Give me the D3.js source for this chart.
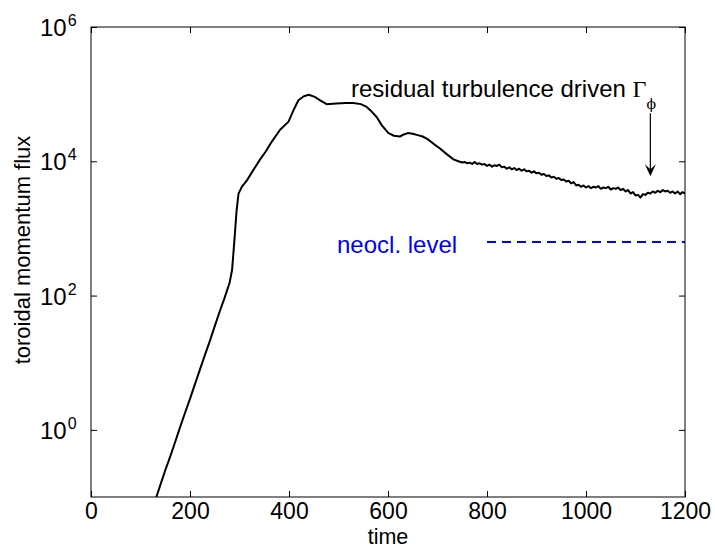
<!DOCTYPE html>
<html>
<head>
<meta charset="utf-8">
<script src="https://cdn.jsdelivr.net/npm/d3@7"></script>
<style>
  body { margin: 0; background: #fff; }
  text { font-family: "Liberation Sans", Arial, sans-serif; }
</style>
</head>
<body>
<div class="mainDiv"></div>
<script>
// time / flux pairs
const fluxSeries = [
  [132, 0.1], [140, 0.15], [150, 0.25], [160, 0.40], [170, 0.66], [180, 1.1],
  [190, 1.8], [200, 2.9], [210, 4.8], [220, 7.9], [230, 13], [240, 21],
  [250, 35], [260, 58], [270, 93], [280, 155], [285, 240], [290, 710],
  [294, 1800], [298, 3300], [305, 4200], [315, 5200], [328, 7400], [341, 10500],
  [353, 14000], [365, 19500], [382, 29500], [399, 39000], [409, 57500], [419, 81000],
  [430, 93000], [440, 98000], [452, 91000], [463, 81000], [476, 71000], [496, 72500],
  [515, 74000], [530, 74000], [545, 71000], [557, 64500], [567, 55000], [577, 45700],
  [588, 34000], [601, 26300], [612, 24000], [624, 23400], [632, 25100], [640, 26300],
  [650, 25700], [660, 24500], [670, 23400], [680, 21400], [692, 18200], [705, 15500],
  [718, 12900], [732, 10700], [742, 10000], [750, 9600],
  [755, 9770], [760, 9330], [765, 9550], [770, 9120], [775, 9770], [780, 9120],
  [785, 9330], [790, 8910], [795, 9120], [800, 8510], [805, 8910], [810, 8320],
  [815, 8710], [820, 8510], [825, 8910], [830, 8130], [835, 8320], [840, 7760],
  [845, 8130], [850, 7590], [855, 7940], [860, 7410], [865, 7760], [870, 7240],
  [875, 7590], [880, 7080], [885, 7240], [890, 6760], [895, 7080], [900, 6610],
  [905, 6760], [910, 6310], [915, 6460], [920, 6030], [925, 6170], [930, 5750],
  [935, 5890], [940, 5500], [945, 5620], [950, 5250], [955, 5370], [960, 5010],
  [965, 5130], [970, 4680], [975, 4900], [980, 4370], [985, 4470], [990, 4170],
  [995, 4370], [1000, 4070], [1005, 4270], [1010, 3980], [1015, 4170], [1020, 4070],
  [1025, 4270], [1030, 3890], [1035, 4070], [1040, 3980], [1045, 4170], [1050, 3800],
  [1055, 3980], [1060, 3890], [1065, 4070], [1070, 3720], [1075, 3890], [1080, 3550],
  [1085, 3720], [1090, 3310], [1095, 3470], [1100, 3090], [1105, 3160], [1110, 2880],
  [1115, 3240], [1120, 3160], [1125, 3390], [1130, 3310], [1135, 3550], [1140, 3390],
  [1145, 3630], [1150, 3470], [1155, 3720], [1160, 3550], [1165, 3630], [1170, 3390],
  [1175, 3550], [1180, 3310], [1185, 3550], [1190, 3240], [1195, 3470], [1200, 3310]
];
const neoclLevel = 630;
const neoclRange = [800, 1200];
const xTicks = [0, 200, 400, 600, 800, 1000, 1200];
const yTicks = [1, 100, 1e4, 1e6];
const yTickExp = ["0", "2", "4", "6"];
const arrowT = 1130, arrowFrom = 52000, arrowTo = 6000;

const svg = d3.select('.mainDiv').append('svg')
  .attr('width', 715).attr('height', 549);

const margin = {top: 27, right: 30, bottom: 52, left: 91};
const width = 715, height = 549;

const x = d3.scaleLinear().domain([0, 1200]).range([margin.left, width - margin.right]);
const y = d3.scaleLog().domain([0.1, 1e6]).range([height - margin.bottom, margin.top]);

svg.append('clipPath').attr('id', 'plotArea')
  .append('rect')
  .attr('x', x(0)).attr('y', y(1e6))
  .attr('width', x(1200) - x(0)).attr('height', y(0.1) - y(1e6));

// flux curve
const line = d3.line().x(d => x(d[0])).y(d => y(d[1]));
svg.append('path')
  .datum(fluxSeries)
  .attr('clip-path', 'url(#plotArea)')
  .attr('fill', 'none')
  .attr('stroke', 'black')
  .attr('stroke-width', 2)
  .attr('stroke-linejoin', 'round')
  .attr('d', line);

// neoclassical level
svg.append('line')
  .attr('x1', x(neoclRange[0])).attr('x2', x(neoclRange[1]))
  .attr('y1', y(neoclLevel)).attr('y2', y(neoclLevel))
  .attr('stroke', '#0000ff')
  .attr('stroke-width', 2)
  .attr('stroke-dasharray', '9,6');

svg.append('text')
  .attr('x', 337).attr('y', 253)
  .attr('font-size', 24)
  .attr('fill', '#0000ff')
  .text('neocl. level');

// axes (ticks pointing inward)
svg.append('g')
  .attr('transform', `translate(0,${y(0.1)})`)
  .call(d3.axisBottom(x).tickValues(xTicks).tickFormat(d3.format('d'))
    .tickSizeInner(-6).tickSizeOuter(0).tickPadding(6))
  .call(g => g.select('.domain').remove())
  .call(g => g.selectAll('text').attr('font-size', 23).attr('fill', 'black')
    .style('font-family', '"Liberation Sans", Arial, sans-serif'));

svg.append('g')
  .attr('transform', `translate(0,${y(1e6)})`)
  .call(d3.axisTop(x).tickValues(xTicks).tickSizeInner(-6).tickSizeOuter(0).tickFormat(''))
  .call(g => g.select('.domain').remove());

svg.append('g')
  .attr('transform', `translate(${x(0)},0)`)
  .call(d3.axisLeft(y).tickValues(yTicks).tickSizeInner(-6).tickSizeOuter(0).tickFormat(''))
  .call(g => g.select('.domain').remove());

svg.append('g')
  .attr('transform', `translate(${x(1200)},0)`)
  .call(d3.axisRight(y).tickValues(yTicks).tickSizeInner(-6).tickSizeOuter(0).tickFormat(''))
  .call(g => g.select('.domain').remove());

svg.selectAll('.tick line').attr('stroke', 'black');

// y tick labels 10^n
const yLab = svg.append('g').selectAll('text')
  .data(yTicks)
  .join('text')
  .attr('x', 40)
  .attr('y', d => y(d) + 9)
  .attr('font-size', 24);
yLab.append('tspan').text('10');
yLab.append('tspan')
  .attr('font-size', 16)
  .attr('dy', -10)
  .attr('dx', 1)
  .text((d, i) => yTickExp[i]);

// box
svg.append('rect')
  .attr('x', x(0)).attr('y', y(1e6))
  .attr('width', x(1200) - x(0)).attr('height', y(0.1) - y(1e6))
  .attr('fill', 'none')
  .attr('stroke', 'black')
  .attr('stroke-width', 1);

// axis titles
svg.append('text')
  .attr('x', (x(0) + x(1200)) / 2)
  .attr('y', 544)
  .attr('text-anchor', 'middle')
  .attr('font-size', 21.5)
  .text('time');

svg.append('text')
  .attr('transform', 'translate(30,250) rotate(-90)')
  .attr('text-anchor', 'middle')
  .attr('font-size', 22)
  .text('toroidal momentum flux');

// annotation with arrow
const ann = svg.append('text')
  .attr('x', 351).attr('y', 97)
  .attr('font-size', 24);
ann.append('tspan').text('residual turbulence driven ');
ann.append('tspan')
  .style('font-family', '"Liberation Serif", "DejaVu Serif", serif')
  .text('\u0393');
ann.append('tspan')
  .style('font-family', '"DejaVu Serif", serif')
  .attr('font-size', 14)
  .attr('dy', 12)
  .text('\u03D5');

const ax = x(arrowT), ay1 = y(arrowFrom), ay2 = y(arrowTo);
svg.append('line')
  .attr('x1', ax).attr('x2', ax)
  .attr('y1', ay1).attr('y2', ay2 - 4)
  .attr('stroke', 'black').attr('stroke-width', 1.2);
svg.append('path')
  .attr('d', `M${ax},${ay2} L${ax - 5.5},${ay2 - 12} L${ax},${ay2 - 7} L${ax + 5.5},${ay2 - 12} Z`)
  .attr('fill', 'black');
</script>
</body>
</html>
